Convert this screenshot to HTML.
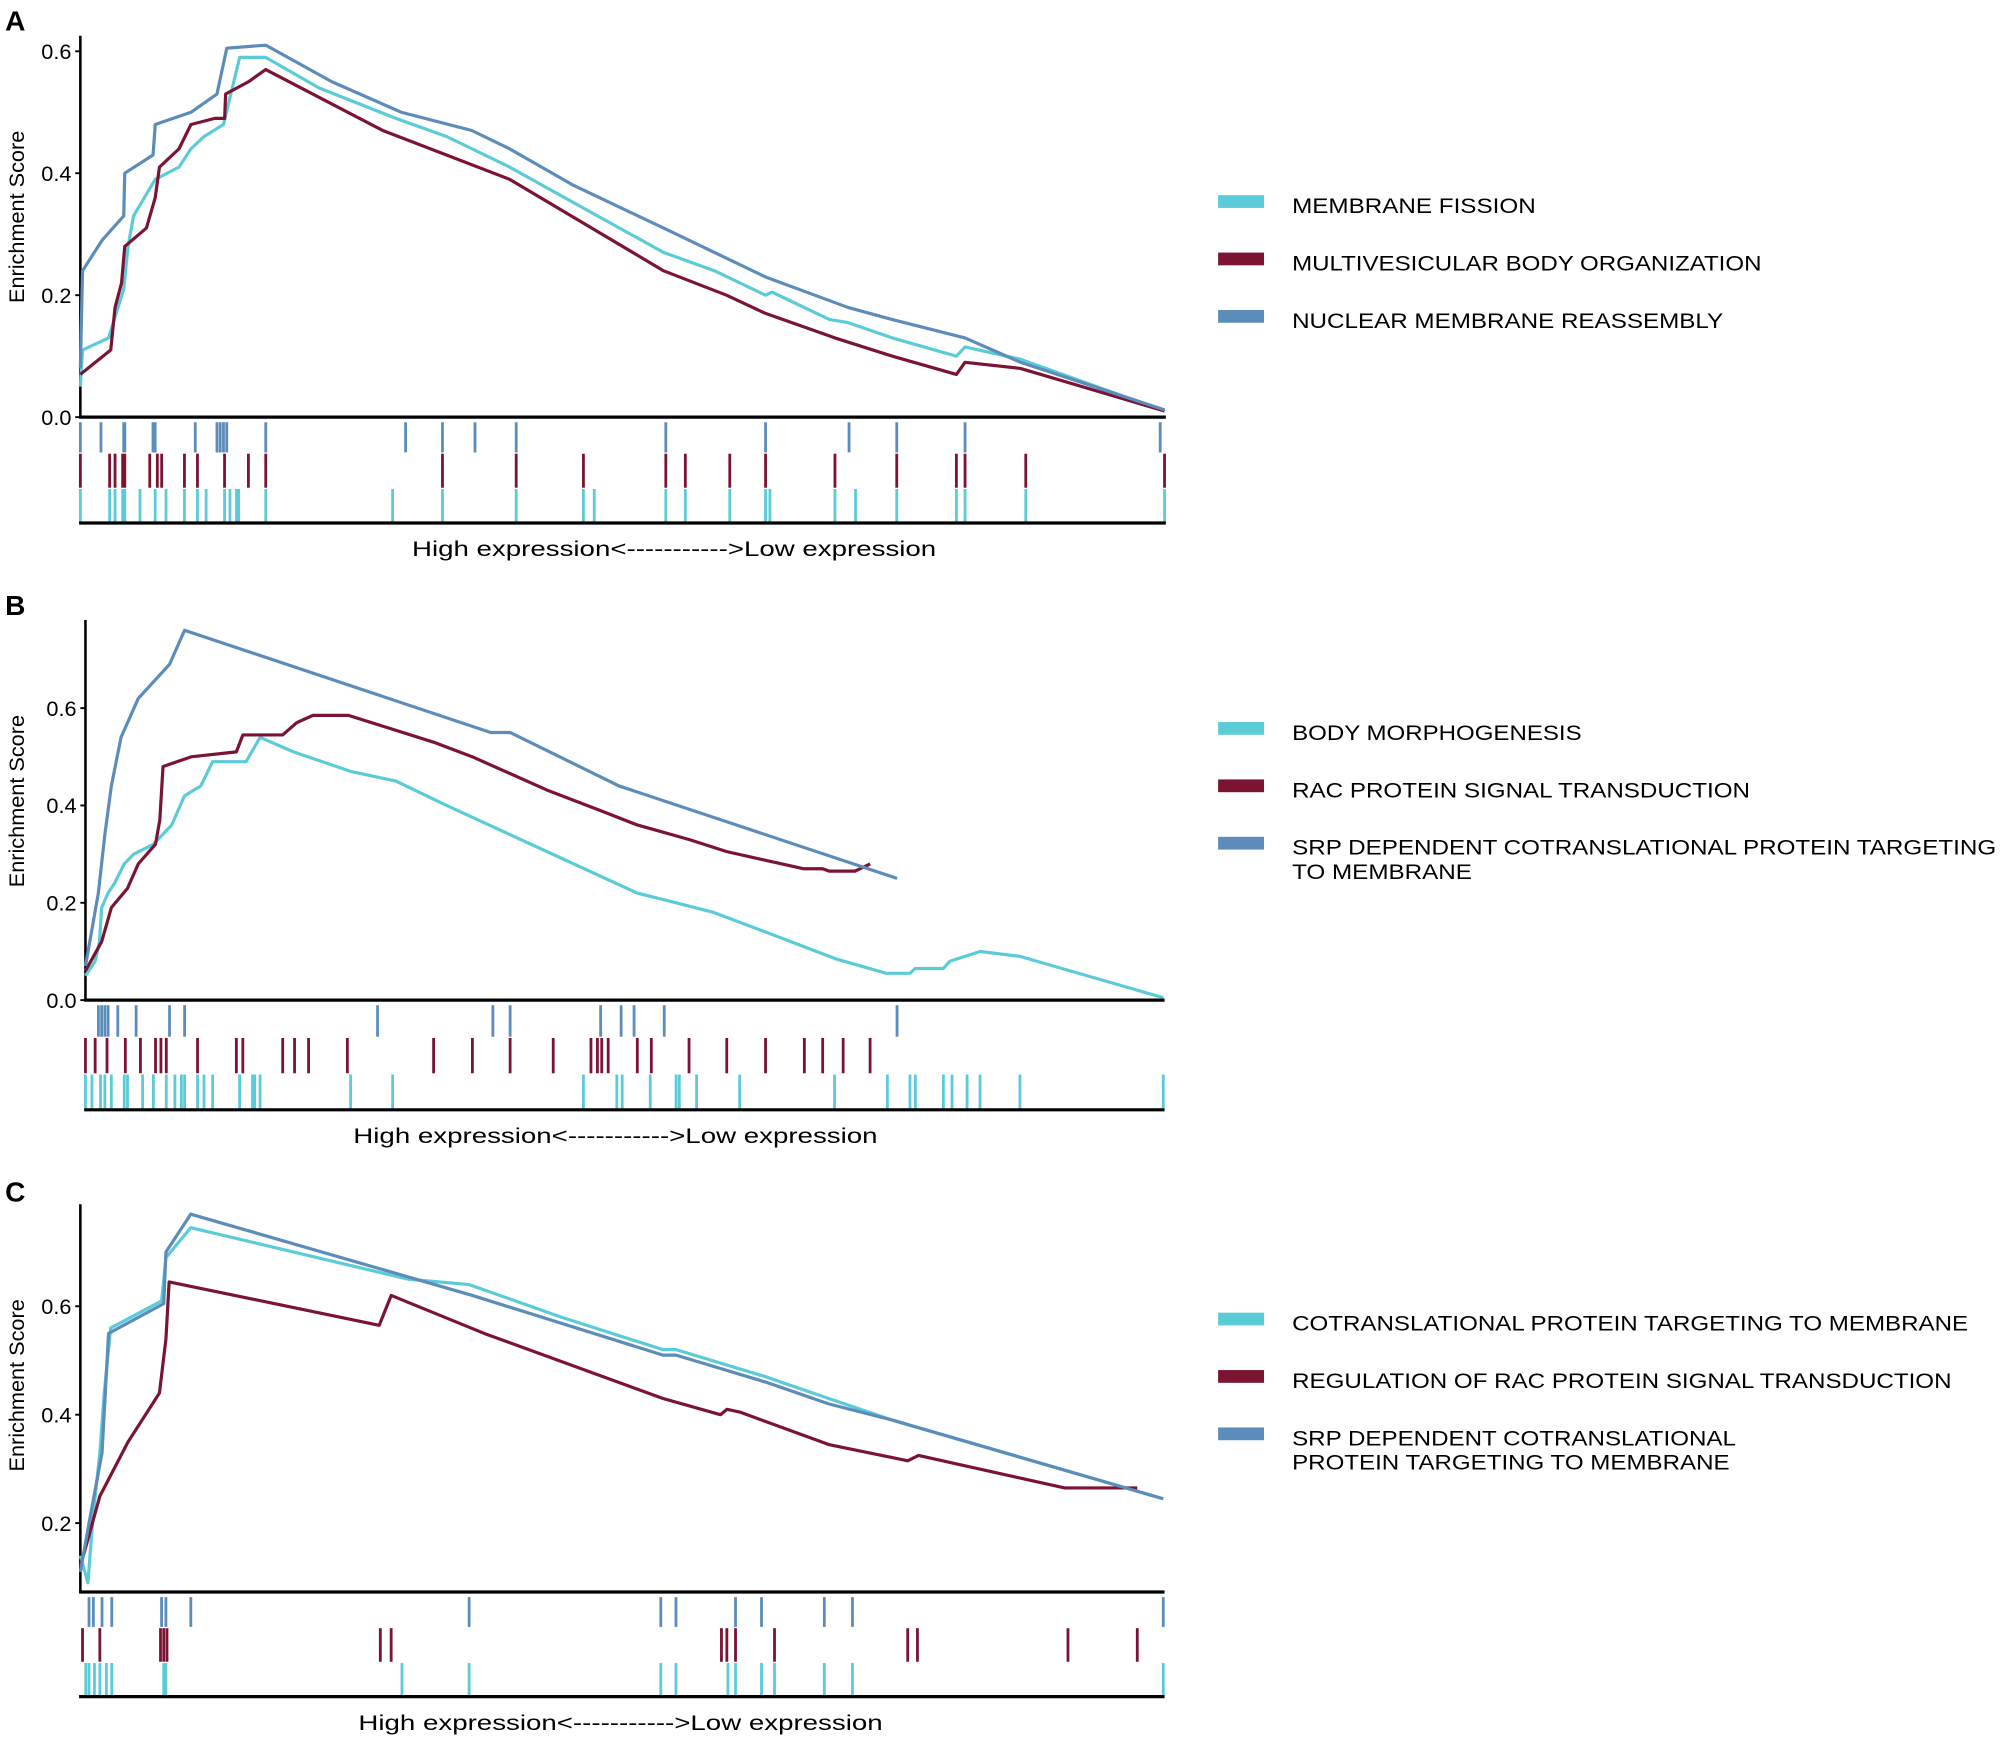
<!DOCTYPE html>
<html><head><meta charset="utf-8"><style>
html,body{margin:0;padding:0;background:#fff;}
svg{display:block;font-family:"Liberation Sans",Arial,sans-serif;}
</style></head><body>
<svg id="chart" width="2000" height="1740" viewBox="0 0 1568 1364" preserveAspectRatio="none"></svg>
<script>
// ---------- Panel A data (rank 0..1000, enrichment score) ----------
const aCyanRank=[0,2,26,40,44,49,69,91,102,114,132,147,171,220,291,338,396,467,538,585,632,638,691,708,749,808,816,867,1000];
const aCyanES=[0.05,0.11,0.13,0.21,0.28,0.33,0.39,0.41,0.44,0.46,0.48,0.59,0.59,0.54,0.49,0.46,0.41,0.34,0.27,0.24,0.20,0.205,0.16,0.155,0.13,0.10,0.115,0.095,0.01];
const aRedRank=[0,28,32,38,41,61,69,73,91,102,124,133,134,155,171,279,396,538,596,632,696,749,808,816,867,1000];
const aRedES=[0.07,0.11,0.18,0.22,0.28,0.31,0.36,0.41,0.44,0.48,0.49,0.49,0.53,0.55,0.57,0.47,0.39,0.24,0.20,0.17,0.13,0.10,0.07,0.09,0.08,0.01];
const aBlueRank=[0,2,20,40,41,67,69,102,126,135,171,232,296,361,396,455,538,632,708,749,816,867,1000];
const aBlueES=[0.08,0.24,0.29,0.33,0.40,0.43,0.48,0.50,0.53,0.605,0.61,0.55,0.50,0.47,0.44,0.38,0.31,0.23,0.18,0.16,0.13,0.09,0.012];
const aBlueHits=[0,19,40,41,67,69,106,126,129,132,135,171,300,334,364,402,540,632,709,753,816,996];
const aRedHits=[0,27,32,39,41,64,71,75,96,108,133,155,171,334,402,464,540,558,599,632,696,753,808,816,872,1000];
const aCyanHits=[0,27,32,39,41,55,69,79,96,108,116,133,138,144,146,171,288,334,402,464,474,540,558,599,632,636,696,715,753,808,816,872,1000];
const aTicks=[0,0.2,0.4,0.6];
const aTickLabels=["0.0","0.2","0.4","0.6"];
const aLegend=["MEMBRANE FISSION","MULTIVESICULAR BODY ORGANIZATION","NUCLEAR MEMBRANE REASSEMBLY"];

// ---------- Panel B data ----------
const bCyanRank=[0,9,13,15,21,27,36,45,63,80,92,107,118,149,162,193,246,288,335,394,453,512,548,583,631,696,743,765,770,796,802,830,867,1000];
const bCyanES=[0.05,0.08,0.12,0.19,0.22,0.24,0.28,0.30,0.32,0.36,0.42,0.44,0.49,0.49,0.54,0.51,0.47,0.45,0.40,0.34,0.28,0.22,0.20,0.18,0.14,0.085,0.055,0.055,0.065,0.065,0.08,0.10,0.09,0.005];
const bRedRank=[0,15,24,39,49,65,69,72,98,140,146,183,196,211,244,323,359,430,477,512,560,595,666,684,690,714,728];
const bRedES=[0.06,0.12,0.19,0.23,0.28,0.32,0.37,0.48,0.50,0.51,0.545,0.545,0.57,0.585,0.585,0.53,0.50,0.43,0.39,0.36,0.33,0.305,0.27,0.27,0.265,0.265,0.28];
const bBlueRank=[0,12,18,24,33,49,78,92,376,394,495,753];
const bBlueES=[0.07,0.22,0.34,0.44,0.54,0.62,0.69,0.76,0.55,0.55,0.44,0.25];
const bBlueHits=[12,15,18,21,30,47,78,92,271,378,394,478,497,509,537,753];
const bRedHits=[0,9,20,37,51,65,70,75,104,140,146,183,194,207,243,323,359,394,434,469,475,479,485,512,525,560,595,631,667,684,703,728];
const bCyanHits=[0,6,14,18,24,36,39,53,63,75,83,89,92,104,110,118,143,155,157,162,246,285,462,493,498,524,548,551,567,607,695,744,765,770,796,804,818,830,867,1000];
const bTicks=[0,0.2,0.4,0.6];
const bTickLabels=["0.0","0.2","0.4","0.6"];
const bLegend=["BODY MORPHOGENESIS","RAC PROTEIN SIGNAL TRANSDUCTION","SRP DEPENDENT COTRANSLATIONAL PROTEIN TARGETING|TO MEMBRANE"];

// ---------- Panel C data ----------
const cCyanRank=[0,7,12,18,22,28,75,79,102,303,359,444,538,550,633,691,750,974,1000];
const cCyanES=[0.14,0.09,0.22,0.33,0.44,0.56,0.61,0.69,0.745,0.65,0.64,0.58,0.52,0.52,0.47,0.43,0.39,0.26,0.245];
const cRedRank=[0,18,44,73,79,82,276,287,373,538,591,597,609,691,764,774,909,976];
const cRedES=[0.12,0.25,0.35,0.44,0.54,0.645,0.565,0.62,0.55,0.43,0.40,0.41,0.405,0.345,0.315,0.325,0.265,0.265];
const cBlueRank=[0,8,20,26,77,79,102,362,538,550,633,691,750,974,1000];
const cBlueES=[0.11,0.20,0.33,0.55,0.605,0.70,0.77,0.62,0.51,0.51,0.46,0.42,0.39,0.26,0.245];
const cBlueHits=[8,12,20,29,75,79,102,359,536,550,605,629,687,713,1000];
const cRedHits=[2,18,74,77,80,277,287,592,597,605,641,764,773,912,976];
const cCyanHits=[5,8,13,18,24,29,77,79,297,359,536,550,598,605,629,641,687,713,1000];
const cTicks=[0.2,0.4,0.6];
const cTickLabels=["0.2","0.4","0.6"];
const cLegend=["COTRANSLATIONAL PROTEIN TARGETING TO MEMBRANE","REGULATION OF RAC PROTEIN SIGNAL TRANSDUCTION","SRP DEPENDENT COTRANSLATIONAL|PROTEIN TARGETING TO MEMBRANE"];

const CYAN="#5ccbd8", RED="#7b1433", BLUE="#5b8cba";
const NS="http://www.w3.org/2000/svg";
const svg=document.getElementById('chart');
function mk(tag,attrs,parent){const e=document.createElementNS(NS,tag);for(const k in attrs)e.setAttribute(k,attrs[k]);(parent||svg).appendChild(e);return e;}

function panel(cfg){
  const g=mk('g',{});
  
  
  const xs=r=>cfg.x0+(cfg.x1-cfg.x0)*r/1000;
  const ys=v=>cfg.yZero-(v-cfg.vZero)*cfg.pxPer;
  const lab=mk('text',{x:4,y:cfg.labelY,'font-size':22,'font-weight':'bold',fill:'#000'},g);
  lab.textContent=cfg.id;
  
  
  const ya=mk('line',{x1:cfg.x0,x2:cfg.x0,y1:cfg.yTop,y2:cfg.axisY,stroke:'#000','stroke-width':2},g);
  
  
  cfg.ticks.forEach((t,i)=>{
    const y=ys(t);
    const tk=mk('line',{x1:cfg.x0-4,x2:cfg.x0,y1:y,y2:y,stroke:'#000','stroke-width':1.5},g);
    
    
    const tl=mk('text',{x:cfg.x0-7,y:y+6,'font-size':17,'text-anchor':'end',fill:'#000'},g);
    tl.textContent=cfg.tickLabels[i];
    
    
  });
  const yt=mk('text',{x:0,y:0,'font-size':17,'text-anchor':'middle',fill:'#000',transform:`translate(19,${cfg.yTitleY}) rotate(-90)`},g);
  yt.textContent='Enrichment Score';
  
  
  const rows=[[cfg.blueHits,BLUE],[cfg.redHits,RED],[cfg.cyanHits,CYAN]];
  const rh=(cfg.hitBottom-cfg.axisY)/3;
  rows.forEach((row,ri)=>{
    row[0].forEach(h=>{
      const x=xs(h);
      const l=mk('line',{x1:x,x2:x,y1:cfg.axisY+ri*rh+(ri==0?4:1),y2:cfg.axisY+(ri+1)*rh,stroke:row[1],'stroke-width':2.2},g);
      
      
    });
  });
  [[cfg.cyanR,cfg.cyanV,CYAN,'cyan'],[cfg.redR,cfg.redV,RED,'red'],[cfg.blueR,cfg.blueV,BLUE,'blue']].forEach(s=>{
    const pts=s[0].map((r,i)=>xs(r).toFixed(1)+','+ys(s[1][i]).toFixed(1)).join(' ');
    const p=mk('polyline',{points:pts,fill:'none',stroke:s[2],'stroke-width':2.5,'stroke-linejoin':'round'},g);
    
    
  });
  const xa=mk('line',{x1:cfg.x0-1,x2:cfg.x1+1,y1:cfg.axisY,y2:cfg.axisY,stroke:'#000','stroke-width':2.5},g);
  
  
  const xb=mk('line',{x1:cfg.x0-1,x2:cfg.x1+1,y1:cfg.hitBottom,y2:cfg.hitBottom,stroke:'#000','stroke-width':2.5},g);
  
  
  const xt=mk('text',{x:cfg.xlabX,y:cfg.hitBottom+26,'font-size':17,fill:'#000',textLength:411,lengthAdjust:'spacingAndGlyphs'},g);
  xt.textContent='High expression<----------->Low expression';
  
  
  [CYAN,RED,BLUE].forEach((c,i)=>{
    const y=cfg.legY+i*45;
    const sw=mk('rect',{x:955,y:y-5,width:36,height:10,fill:c},g);
    
    
    cfg.legend[i].split('|').forEach((line,j)=>{
      const t=mk('text',{x:1013,y:y+9+j*19,'font-size':17,fill:'#000',textLength:cfg.legW[i][j],lengthAdjust:'spacingAndGlyphs'},g);
      t.textContent=line;
      
      
    });
  });
}

panel({id:'A',labelY:24,x0:63,x1:913,yTop:28,axisY:327,hitBottom:410,yZero:327,vZero:0,pxPer:478,ticks:aTicks,tickLabels:aTickLabels,yTitleY:170,xlabX:323,legY:158,
  legW:[[191],[368],[338]],legend:aLegend,
  cyanR:aCyanRank,cyanV:aCyanES,redR:aRedRank,redV:aRedES,blueR:aBlueRank,blueV:aBlueES,blueHits:aBlueHits,redHits:aRedHits,cyanHits:aCyanHits});
panel({id:'B',labelY:482,x0:67,x1:912,yTop:486,axisY:784,hitBottom:870,yZero:784,vZero:0,pxPer:381.5,ticks:bTicks,tickLabels:bTickLabels,yTitleY:628,xlabX:277,legY:571,
  legW:[[227],[359],[552,141]],legend:bLegend,
  cyanR:bCyanRank,cyanV:bCyanES,redR:bRedRank,redV:bRedES,blueR:bBlueRank,blueV:bBlueES,blueHits:bBlueHits,redHits:bRedHits,cyanHits:bCyanHits});
panel({id:'C',labelY:942,x0:63,x1:912,yTop:944,axisY:1248,hitBottom:1330,yZero:1194,vZero:0.2,pxPer:425,ticks:cTicks,tickLabels:cTickLabels,yTitleY:1086,xlabX:281,legY:1034,
  legW:[[530],[517],[348,343]],legend:cLegend,
  cyanR:cCyanRank,cyanV:cCyanES,redR:cRedRank,redV:cRedES,blueR:cBlueRank,blueV:cBlueES,blueHits:cBlueHits,redHits:cRedHits,cyanHits:cCyanHits});
</script>
</body></html>
